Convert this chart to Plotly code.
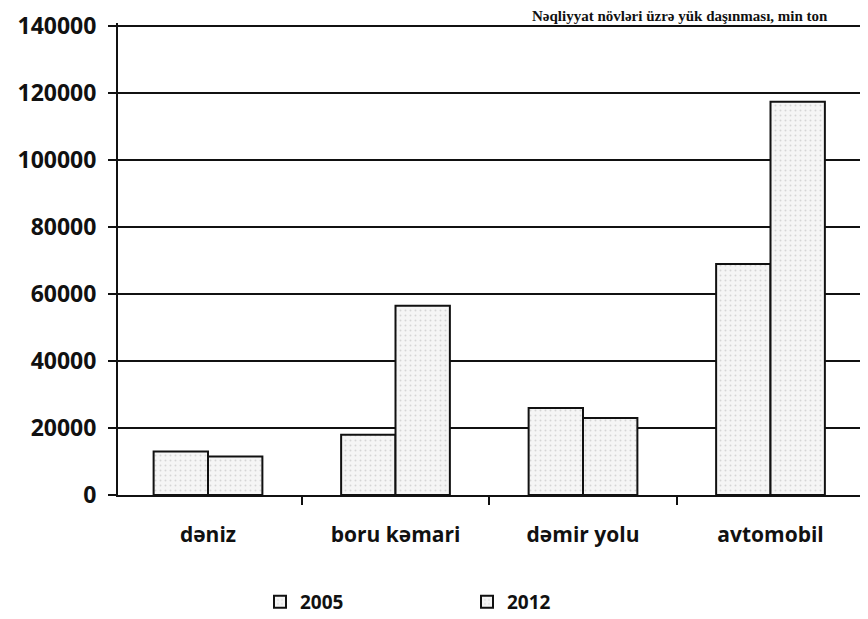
import plotly.graph_objects as go

categories = ["dəniz", "boru kəmari", "dəmir yolu", "avtomobil"]
values_2005 = [13000, 18000, 26000, 69000]
values_2012 = [11500, 56500, 23000, 117500]
series_names = ["2005", "2012"]
y_ticks = [0, 20000, 40000, 60000, 80000, 100000, 120000, 140000]
title_text = "Nəqliyyat növləri üzrə yük daşınması, min ton"

# the page adds an 8px body margin, so the figure is laid out 8px smaller
OFF = 8
W, H = 868 - OFF, 619 - OFF
ML = 118 - OFF
MR = 0
MT = 23 - OFF
MB = H - (495 - OFF)
plot_w = W - ML - MR
plot_h = H - MT - MB

bar_style = dict(
    color="#f3f3f3",
    line=dict(color="#111111", width=2),
    pattern=dict(shape=".", fgcolor="#b5b5b5", bgcolor="#f5f5f5", size=5, solidity=0.12),
)

fig = go.Figure()
for name, vals in zip(series_names, [values_2005, values_2012]):
    fig.add_trace(go.Bar(x=categories, y=vals, name=name, marker=bar_style))

fig.update_layout(
    width=W, height=H,
    margin=dict(l=ML, r=MR, t=MT, b=MB, pad=0, autoexpand=False),
    paper_bgcolor="white", plot_bgcolor="white",
    barmode="group", bargap=0.42, bargroupgap=0,
    font=dict(family="Open Sans", color="#111111"),
    showlegend=True,
    legend=dict(
        orientation="h",
        xref="container", x=(260 - OFF) / W, xanchor="left",
        yref="container", y=1 - (602 - OFF) / H, yanchor="middle",
        font=dict(family="Open Sans", size=19, color="#111111", weight="bold"),
        entrywidth=162, entrywidthmode="pixels",
        itemwidth=30,
        bgcolor="rgba(0,0,0,0)",
    ),
    xaxis=dict(
        showline=True, linecolor="#111111", linewidth=2,
        ticks="outside", tickson="boundaries", ticklen=8, tickcolor="#111111", tickwidth=2,
        tickfont=dict(family="Open Sans", size=21, color="#111111", weight="bold"),
        ticklabelstandoff=20,
        showgrid=False,
        range=[-0.48, 3.52],
        automargin=False,
    ),
    yaxis=dict(
        range=[0, 141000],
        tickvals=y_ticks,
        ticktext=[str(v) for v in y_ticks],
        showline=True, linecolor="#111111", linewidth=2,
        ticks="outside", ticklen=8, tickcolor="#111111", tickwidth=2,
        showgrid=True, gridcolor="#111111", gridwidth=1.6,
        zeroline=False,
        tickfont=dict(family="Open Sans", size=23, color="#111111", weight="bold"),
        ticklabelstandoff=7,
        ticklabeloverflow="allow",
        automargin=False,
    ),
)

fig.add_annotation(
    text=title_text,
    xref="paper", yref="paper",
    x=(830 - OFF - ML) / plot_w, xanchor="right",
    y=1 + (MT - 8) / plot_h, yanchor="middle",
    showarrow=False,
    font=dict(family="Liberation Serif", size=15, color="#111111", weight="bold"),
)

fig.write_html("out.html")
